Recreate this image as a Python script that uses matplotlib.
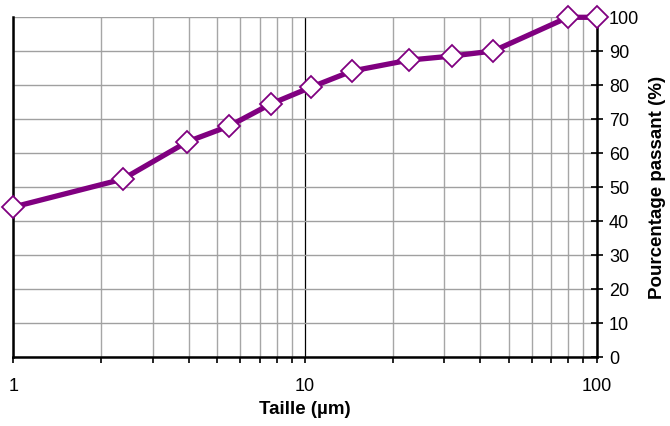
import matplotlib
matplotlib.use("Agg")
import matplotlib.pyplot as plt
from matplotlib.ticker import LogLocator, NullFormatter

plt.rcParams['font.family'] = ['Liberation Sans', 'DejaVu Sans']

taille = [1.0, 2.37, 3.95, 5.49, 7.63, 10.46, 14.5, 22.7, 31.9, 44.3, 79.8, 100.0]
passant = [44.2, 52.4, 63.4, 68.0, 74.5, 79.4, 84.2, 87.4, 88.6, 90.1, 100.0, 100.0]
x_ticks = [1, 10, 100]
x_labels = ["1", "10", "100"]
y_ticks = list(range(0, 101, 10))

fig = plt.figure(figsize=(6.7, 4.26), dpi=100)
ax = fig.add_axes([0.0201, 0.1613, 0.8702, 0.7981])

ax.set_xscale('log')
ax.set_xlim(1, 100)
ax.set_ylim(0, 100)

ax.xaxis.set_minor_locator(LogLocator(base=10, subs=range(2, 10)))
ax.xaxis.set_minor_formatter(NullFormatter())
ax.set_xticks(x_ticks)
ax.set_xticklabels(x_labels)
ax.set_yticks(y_ticks)
ax.grid(True, which='minor', axis='x', color='#a6a6a6', lw=1.0)
ax.grid(True, which='major', axis='x', color='black', lw=0.9)
ax.grid(True, which='major', axis='y', color='#a0a0a0', lw=1.0)
ax.set_axisbelow(True)

ax.plot(taille, passant, color='#800080', lw=3.8, marker='D', markersize=11,
        markerfacecolor='white', markeredgecolor='#800080', markeredgewidth=1.3,
        clip_on=False, zorder=5)

ax.yaxis.tick_right()
ax.yaxis.set_label_position('right')
for s in ['left', 'bottom', 'right']:
    ax.spines[s].set_color('black')
    ax.spines[s].set_linewidth(1.8)
ax.spines['top'].set_visible(False)

ax.tick_params(axis='x', which='both', direction='out', length=4, width=1.2,
               labelsize=13, pad=11)
ax.tick_params(axis='y', which='major', direction='inout', length=8, width=1.2,
               labelsize=13, pad=5)

ax.set_xlabel('Taille (µm)', fontsize=13.5, fontweight='bold', labelpad=4)
ax.set_ylabel('Pourcentage passant (%)', fontsize=13.5, fontweight='bold', labelpad=7)

fig.savefig('out.png', dpi=100)
